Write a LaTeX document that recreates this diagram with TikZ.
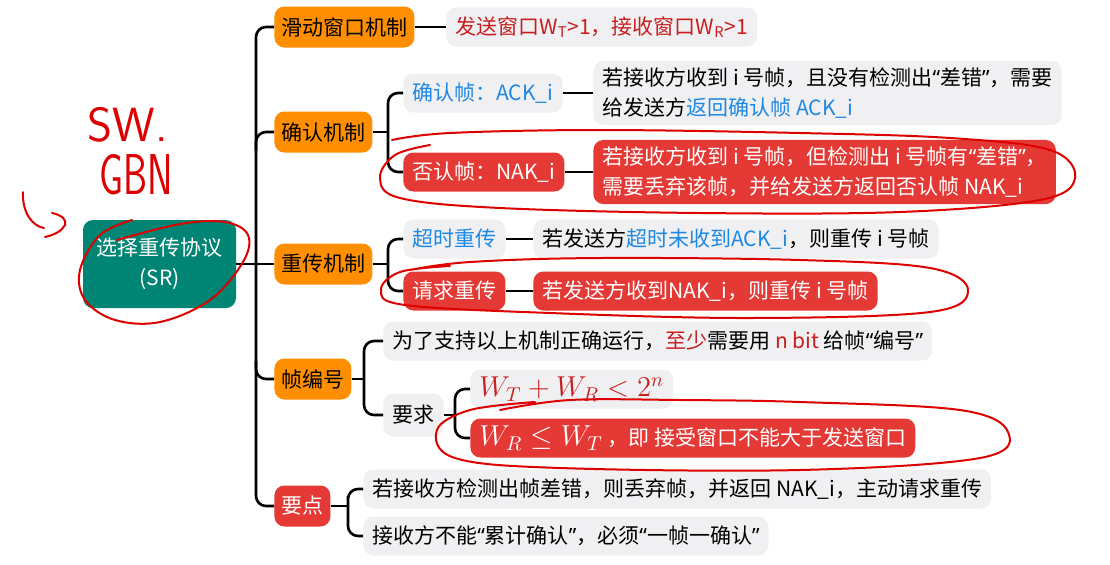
\documentclass[tikz,border=0pt]{standalone}
\usepackage{fontspec}
\setmainfont{Noto Sans CJK SC}
\newfontfamily\quotefont{Noto Sans}
\newcommand\quo[1]{{\quotefont“}#1{\quotefont”}}
\usetikzlibrary{positioning}
\definecolor{sorange}{RGB}{255,143,0}
\definecolor{sred}{RGB}{229,57,53}
\definecolor{sgray}{RGB}{240,240,243}
\definecolor{steal}{RGB}{0,133,117}
\definecolor{sblue}{RGB}{30,136,229}
\definecolor{stext}{RGB}{200,30,30}
\definecolor{shand}{RGB}{222,0,0}

\begin{document}
\begin{tikzpicture}[x=0.5pt, y=-0.5pt,
  every node/.style={font=\fontsize{10.5}{15}\selectfont},
  topic/.style={fill=sorange, rounded corners=5pt, minimum height=20.5pt,
                inner xsep=3.5pt, anchor=west},
  leaf/.style={fill=sgray, rounded corners=5pt, minimum height=19.5pt,
               inner xsep=4.5pt, anchor=west, align=left},
  hot/.style={leaf, fill=sred, text=white},
  conn/.style={line width=1.3pt, rounded corners=5pt},
  hand/.style={shand, line width=1pt, line cap=round, line join=round},
  handtext/.style={text=shand, font=\sffamily\fontsize{24}{24}\selectfont, inner sep=0pt},
]
\useasboundingbox[fill=white] (0,0) rectangle (1110,564);

% root
\node[fill=steal, text=white, rounded corners=5pt, minimum width=76.5pt,
      minimum height=44pt, align=center] (sr) at (159.5,264) {选择重传协议\\(SR)};

% first level
\node[topic] (win) at (274,27) {滑动窗口机制};
\node[topic] (ack) at (274,132) {确认机制};
\node[topic] (ret) at (274,264) {重传机制};
\node[topic] (seq) at (274,379) {帧编号};
\node[topic, fill=sred, text=white] (key) at (274,506) {要点};

% sliding window
\node[leaf, text=stext] (winL) at (446,27)
  {发送窗口W\textsubscript{T}>1，接收窗口W\textsubscript{R}>1};

% acknowledgement
\node[leaf, text=sblue] (ackF) at (403,93) {确认帧：ACK\_i};
\node[hot] (nakF) at (403,172) {否认帧：NAK\_i};
\node[leaf] (ackL) at (593,93)
  {若接收方收到 i 号帧，且没有检测出\quo{差错}，需要\\给发送方\textcolor{sblue}{返回确认帧 ACK\_i}};
\node[hot] (nakL) at (593,172)
  {若接收方收到 i 号帧，但检测出 i 号帧有\quo{差错}，\\需要丢弃该帧，并给发送方返回否认帧 NAK\_i};

% retransmission
\node[leaf, text=sblue] (toF) at (403,239) {超时重传};
\node[hot] (rqF) at (403,291) {请求重传};
\node[leaf] (toL) at (533,239) {若发送方\textcolor{sblue}{超时未收到ACK\_i}，则重传 i 号帧};
\node[hot] (rqL) at (533,291) {若发送方收到NAK\_i，则重传 i 号帧};

% sequence numbers
\node[leaf] (bitL) at (383,341)
  {为了支持以上机制正确运行，\textcolor{stext}{至少}需要用 \textcolor{stext}{n bit} 给帧\quo{编号}};
\node[leaf, minimum height=21.5pt] (req) at (383,415) {要求};
\node[leaf, text=stext] (sumL) at (470,389) {\fontsize{14}{16}\selectfont $W_T+W_R<2^n$};
\node[hot] (leL) at (470,438)
  {{\fontsize{14}{16}\selectfont $W_R\le W_T$}\ ，即 接受窗口不能大于发送窗口};

% key points
\node[leaf] (nakP) at (363,489) {若接收方检测出帧差错，则丢弃帧，并返回 NAK\_i，主动请求重传};
\node[leaf] (cumP) at (363,536) {接收方不能\quo{累计确认}，必须\quo{一帧一确认}};

% junctions
\coordinate (ackT) at (256,150);
\coordinate (seqT) at (256,361);
\coordinate (ackJ) at (388,132);
\coordinate (retJ) at (388,264);
\coordinate (seqJ) at (364,379);
\coordinate (reqJ) at (455,415);
\coordinate (keyJ) at (348,506);

% trunk
\draw[conn] (sr.east) -- (ret.west);
\draw[conn] (win.west) -- ++(-18,0) |- (key.west);
\draw[conn] (ackT) |- (ack.west);
\draw[conn] (seqT) |- (seq.west);

% brackets
\draw[conn] (ack.east) -- (ackJ);
\draw[conn] (ackF.west) -| (ackJ) |- (nakF.west);
\draw[conn] (ret.east) -- (retJ);
\draw[conn] (toF.west) -| (retJ) |- (rqF.west);
\draw[conn] (seq.east) -- (seqJ);
\draw[conn] (bitL.west) -| (seqJ) |- (req.west);
\draw[conn] (req.east) -- (reqJ);
\draw[conn] (sumL.west) -| (reqJ) |- (leL.west);
\draw[conn] (key.east) -- (keyJ);
\draw[conn] (nakP.west) -| (keyJ) |- (cumP.west);

% leaf links
\draw[conn] (win.east) -- (winL.west);
\draw[conn] (ackF.east) -- (ackL.west);
\draw[conn] (nakF.east) -- (nakL.west);
\draw[conn] (toF.east) -- (toL.west);
\draw[conn] (rqF.east) -- (rqL.west);

% handwriting
\node[handtext] (sw) at (128,125) {SW.};
\node[handtext, xscale=0.8, yscale=1.2] (gbn) at (136,175) {GBN};
\draw[hand] (23,192) .. controls (22,212) and (32,226) .. (44,228);
\draw[hand] (52,213) .. controls (62,215) and (67,220) .. (65,225) .. controls (62,231) and (54,235) .. (45,237);
\draw[hand] plot[smooth, tension=0.6] coordinates {(132,220) (100,235) (80,270) (85,300)
  (115,320) (160,322) (210,300) (243,262) (248,235) (225,222) (180,224) (117,240)};
\draw[hand] plot[smooth, tension=0.6] coordinates {(430,145) (395,155) (380,178) (400,198)
  (500,208) (700,213) (900,212) (1040,200) (1075,178) (1050,150) (950,138) (800,133)
  (600,130) (450,133) (392,140)};
\draw[hand] plot[smooth, tension=0.6] coordinates {(450,266) (400,272) (381,290) (405,305)
  (550,313) (750,318) (930,312) (968,290) (930,268) (800,260) (600,258) (470,262) (410,270)};
\draw[hand] plot[smooth, tension=0.6] coordinates {(535,402) (470,410) (437,430) (455,458)
  (560,468) (800,470) (980,458) (1008,432) (960,410) (800,402) (680,400) (570,400) (500,410)};
\end{tikzpicture}
\end{document}
